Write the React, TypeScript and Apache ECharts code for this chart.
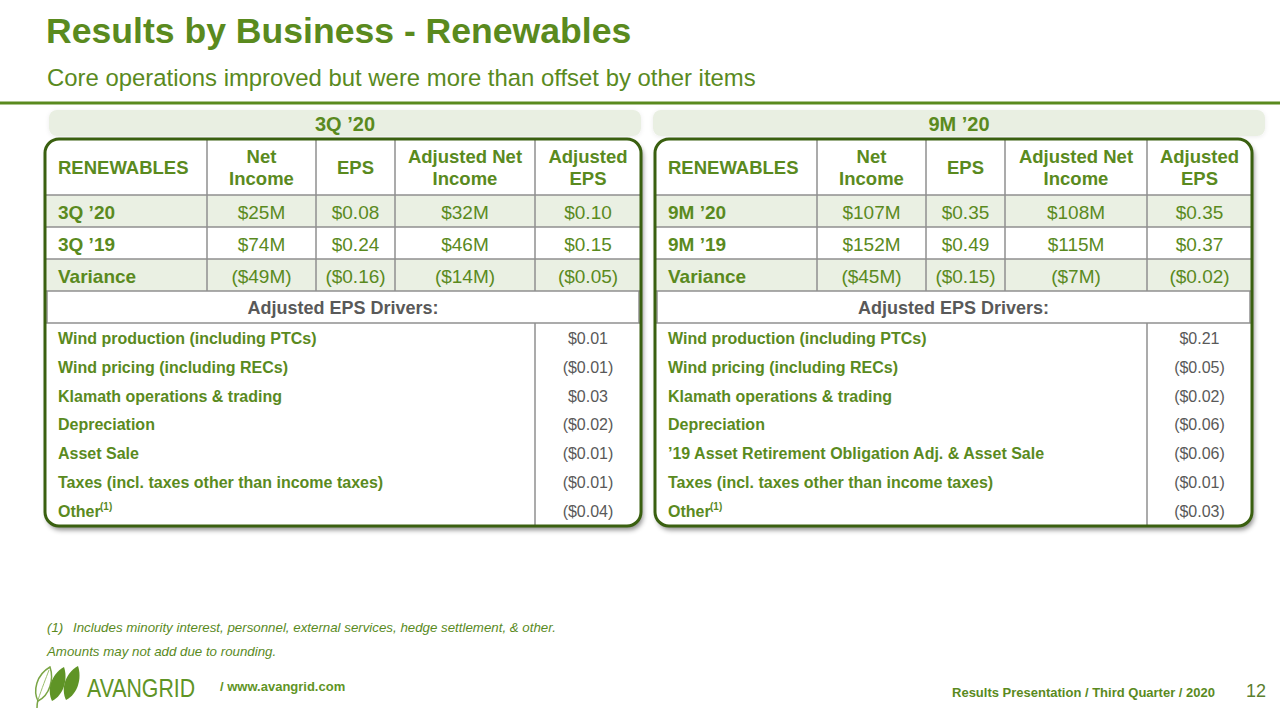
import React, { useEffect, useRef } from "react";
import * as echarts from "echarts";

// ---------- data ----------
const titleText = "Results by Business - Renewables";
const subtitleText = "Core operations improved but were more than offset by other items";

const headerLabels = ["RENEWABLES", "Net\nIncome", "EPS", "Adjusted Net\nIncome", "Adjusted\nEPS"];

const q3Label = "3Q ’20";
const q3RowLabels = ["3Q ’20", "3Q ’19", "Variance"];
const q3NetIncome = ["$25M", "$74M", "($49M)"];
const q3Eps = ["$0.08", "$0.24", "($0.16)"];
const q3AdjNetIncome = ["$32M", "$46M", "($14M)"];
const q3AdjEps = ["$0.10", "$0.15", "($0.05)"];
const q3DriverLabels = [
  "Wind production (including PTCs)",
  "Wind pricing (including RECs)",
  "Klamath operations & trading",
  "Depreciation",
  "Asset Sale",
  "Taxes (incl. taxes other than income taxes)",
  "Other",
];
const q3DriverValues = ["$0.01", "($0.01)", "$0.03", "($0.02)", "($0.01)", "($0.01)", "($0.04)"];

const m9Label = "9M ’20";
const m9RowLabels = ["9M ’20", "9M ’19", "Variance"];
const m9NetIncome = ["$107M", "$152M", "($45M)"];
const m9Eps = ["$0.35", "$0.49", "($0.15)"];
const m9AdjNetIncome = ["$108M", "$115M", "($7M)"];
const m9AdjEps = ["$0.35", "$0.37", "($0.02)"];
const m9DriverLabels = [
  "Wind production (including PTCs)",
  "Wind pricing (including RECs)",
  "Klamath operations & trading",
  "Depreciation",
  "’19 Asset Retirement Obligation Adj. & Asset Sale",
  "Taxes (incl. taxes other than income taxes)",
  "Other",
];
const m9DriverValues = ["$0.21", "($0.05)", "($0.02)", "($0.06)", "($0.06)", "($0.01)", "($0.03)"];

const driversTitle = "Adjusted EPS Drivers:";
const footnote1 = "Includes minority interest, personnel, external services, hedge settlement, & other.";
const footnote2 = "Amounts may not add due to rounding.";
const footerText = "Results Presentation / Third Quarter / 2020";
const pageNumber = "12";

// ---------- style ----------
const GREEN = "#5a8a1e";
const DARK = "#3a6010";
const GRAY = "#595959";
const GRID = "#8f8f8f";
const LIGHT = "#eaf0e3";
const FONT = '"Liberation Sans", Arial, sans-serif';

const LEAF = "M3 34 C -2 24 1 8 15 0 C 19 12 15 28 3 34 Z";
echarts.graphic.registerShape("leaf", echarts.graphic.extendPath(LEAF, {}) as any);

function txt(text: string, x: number, y: number, font: string, fill: string, align = "left", extra: any = {}) {
  return {
    type: "text",
    z: 10,
    style: {
      text,
      x,
      y,
      font,
      fill,
      align,
      verticalAlign: "middle",
      textAlign: align,
      textVerticalAlign: "middle",
      ...extra,
    },
  };
}

function buildTable(
  x0: number,
  widths: number[],
  bandX0: number,
  bandX1: number,
  bandLabel: string,
  rowLabels: string[],
  cols: string[][],
  driverLabels: string[],
  driverValues: string[]
) {
  const els: any[] = [];
  const TOP = 139;
  const HEAD_B = 195;
  const ROW_H = 32;
  const DRV_HEAD_B = HEAD_B + ROW_H * 4;
  const DRV_H = 28.7;
  const BOTTOM = 526;
  const W = widths.reduce((a, b) => a + b, 0);
  const bounds: number[] = [x0];
  widths.forEach((w) => bounds.push(bounds[bounds.length - 1] + w));

  // band
  els.push({
    type: "rect",
    z: 1,
    shape: { x: bandX0, y: 110, width: bandX1 - bandX0, height: 26, r: 8 },
    style: { fill: "#e9efe2", shadowBlur: 4, shadowColor: "rgba(0,0,0,0.08)", shadowOffsetX: 0, shadowOffsetY: 1 },
  });
  els.push(txt(bandLabel, (bandX0 + bandX1) / 2, 124, `bold 20px ${FONT}`, GREEN, "center"));

  // table body
  els.push({
    type: "rect",
    z: 2,
    shape: { x: x0, y: TOP, width: W, height: BOTTOM - TOP, r: 14 },
    style: {
      fill: "#ffffff",
      shadowBlur: 5,
      shadowOffsetX: 2,
      shadowOffsetY: 4,
      shadowColor: "rgba(0,0,0,0.45)",
    },
  });
  // shaded rows
  [0, 2].forEach((i) => {
    els.push({
      type: "rect",
      z: 3,
      shape: { x: x0 + 1, y: HEAD_B + ROW_H * i, width: W - 2, height: ROW_H },
      style: { fill: LIGHT },
    });
  });
  // horizontal grid lines
  for (let i = 0; i <= 4; i++) {
    const y = HEAD_B + ROW_H * i;
    els.push({
      type: "line",
      z: 4,
      shape: { x1: x0, y1: y, x2: x0 + W, y2: y },
      style: { stroke: GRID, lineWidth: 1.5 },
    });
  }
  // vertical grid lines (header + data rows)
  for (let c = 1; c < bounds.length - 1; c++) {
    els.push({
      type: "line",
      z: 4,
      shape: { x1: bounds[c], y1: TOP, x2: bounds[c], y2: HEAD_B + ROW_H * 3 },
      style: { stroke: GRID, lineWidth: 1.5 },
    });
  }
  // inner frame of drivers header box
  els.push({
    type: "line",
    z: 4,
    shape: { x1: x0 + 2, y1: HEAD_B + ROW_H * 3, x2: x0 + 2, y2: DRV_HEAD_B },
    style: { stroke: GRID, lineWidth: 1.5 },
  });
  els.push({
    type: "line",
    z: 4,
    shape: { x1: x0 + W - 2, y1: HEAD_B + ROW_H * 3, x2: x0 + W - 2, y2: DRV_HEAD_B },
    style: { stroke: GRID, lineWidth: 1.5 },
  });
  // drivers separator
  const sepX = bounds[bounds.length - 2];
  els.push({
    type: "line",
    z: 4,
    shape: { x1: sepX, y1: DRV_HEAD_B, x2: sepX, y2: BOTTOM },
    style: { stroke: GRID, lineWidth: 1.5 },
  });
  // outer border
  els.push({
    type: "rect",
    z: 6,
    shape: { x: x0, y: TOP, width: W, height: BOTTOM - TOP, r: 14 },
    style: { fill: "none", stroke: DARK, lineWidth: 3 },
  });

  // header texts
  headerLabels.forEach((h, c) => {
    if (c === 0) {
      els.push(txt(h, x0 + 13, (TOP + HEAD_B) / 2, `bold 18.5px ${FONT}`, GREEN, "left"));
    } else {
      els.push(
        txt(h, (bounds[c] + bounds[c + 1]) / 2, (TOP + HEAD_B) / 2, `bold 18.5px ${FONT}`, GREEN, "center", {
          lineHeight: 22,
        })
      );
    }
  });
  // data rows
  rowLabels.forEach((lab, r) => {
    const cy = HEAD_B + ROW_H * r + ROW_H / 2 + 1;
    els.push(txt(lab, x0 + 13, cy, `bold 19px ${FONT}`, GREEN, "left"));
    cols.forEach((col, c) => {
      els.push(txt(col[r], (bounds[c + 1] + bounds[c + 2]) / 2, cy, `19px ${FONT}`, GREEN, "center"));
    });
  });
  // drivers header
  els.push(
    txt(driversTitle, x0 + W / 2, (HEAD_B + ROW_H * 3 + DRV_HEAD_B) / 2 + 1, `bold 18px ${FONT}`, GRAY, "center")
  );
  // drivers
  const lastC = bounds.length - 2;
  driverLabels.forEach((lab, i) => {
    const cy = DRV_HEAD_B + 1.5 + DRV_H * i + DRV_H / 2;
    els.push(txt(lab, x0 + 13, cy, `bold 16px ${FONT}`, GREEN, "left"));
    if (lab === "Other") {
      els.push(txt("(1)", x0 + 13 + 42, cy - 5, `bold 10px ${FONT}`, GREEN, "left"));
    }
    els.push(txt(driverValues[i], (bounds[lastC] + bounds[lastC + 1]) / 2, cy, `16px ${FONT}`, GRAY, "center"));
  });
  return els;
}

function logoElements() {
  const els: any[] = [];
  // stem
  els.push({
    type: "bezierCurve",
    z: 10,
    shape: { x1: 40, y1: 695, cpx1: 37, cpy1: 700, x2: 37, y2: 708 },
    style: { stroke: "#7aa545", lineWidth: 1.5, fill: "none" },
  });
  els.push({
    type: "leaf",
    z: 10,
    x: 35,
    y: 667,
    style: { fill: "#ffffff", stroke: "#7aa545", lineWidth: 1.5 },
  });
  els.push({
    type: "bezierCurve",
    z: 11,
    shape: { x1: 38, y1: 700, cpx1: 42, cpy1: 688, cpx2: 46, cpy2: 678, x2: 49, y2: 670 },
    style: { stroke: "#9cc070", lineWidth: 1, fill: "none" },
  });
  els.push({ type: "leaf", z: 10, x: 49, y: 667, style: { fill: "#5f9426" } });
  els.push({ type: "leaf", z: 10, x: 63, y: 666, style: { fill: "#5f9426" } });
  els.push({
    type: "text",
    z: 10,
    x: 87,
    y: 688,
    scaleX: 0.82,
    style: {
      text: "AVANGRID",
      x: 0,
      y: 0,
      font: `26px ${FONT}`,
      fill: "#5f9426",
      align: "left",
      verticalAlign: "middle",
      textAlign: "left",
      textVerticalAlign: "middle",
    },
  });
  els.push(txt("/ www.avangrid.com", 220, 686, `bold 13px ${FONT}`, "#5f9426", "left"));
  return els;
}

export default function App() {
  const ref = useRef<HTMLDivElement>(null);
  useEffect(() => {
    if (!ref.current) return;
    const chart = echarts.init(ref.current, undefined, { renderer: "svg" });
    const widths = [162, 109, 79, 140, 106];
    const widthsR = [162, 109, 79, 142, 105];
    const elements: any[] = [
      { type: "rect", z: 0, shape: { x: 0, y: 0, width: 1280, height: 720 }, style: { fill: "#ffffff" } },
      txt(titleText, 46, 31, `bold 35.6px ${FONT}`, GREEN, "left"),
      txt(subtitleText, 47, 77, `23.9px ${FONT}`, GREEN, "left"),
      {
        type: "line",
        z: 5,
        shape: { x1: 0, y1: 103, x2: 1280, y2: 103 },
        style: { stroke: GREEN, lineWidth: 3 },
      },
      ...buildTable(45, widths, 49, 641, q3Label, q3RowLabels, [q3NetIncome, q3Eps, q3AdjNetIncome, q3AdjEps], q3DriverLabels, q3DriverValues),
      ...buildTable(655, widthsR, 653, 1265, m9Label, m9RowLabels, [m9NetIncome, m9Eps, m9AdjNetIncome, m9AdjEps], m9DriverLabels, m9DriverValues),
      txt("(1)", 47, 627, `italic 13.3px ${FONT}`, GREEN, "left"),
      txt(footnote1, 73, 627, `italic 13.3px ${FONT}`, GREEN, "left"),
      txt(footnote2, 47, 651, `italic 13.3px ${FONT}`, GREEN, "left"),
      ...logoElements(),
      txt(footerText, 1215, 692, `bold 13px ${FONT}`, GREEN, "right"),
      txt(pageNumber, 1266, 691, `18px ${FONT}`, "#5b7f2e", "right"),
    ];
    chart.setOption({ animation: false, graphic: { elements } });
    return () => chart.dispose();
  }, []);
  return <div ref={ref} style={{ position: "absolute", left: 0, top: 0, width: 1280, height: 720 }} />;
}
